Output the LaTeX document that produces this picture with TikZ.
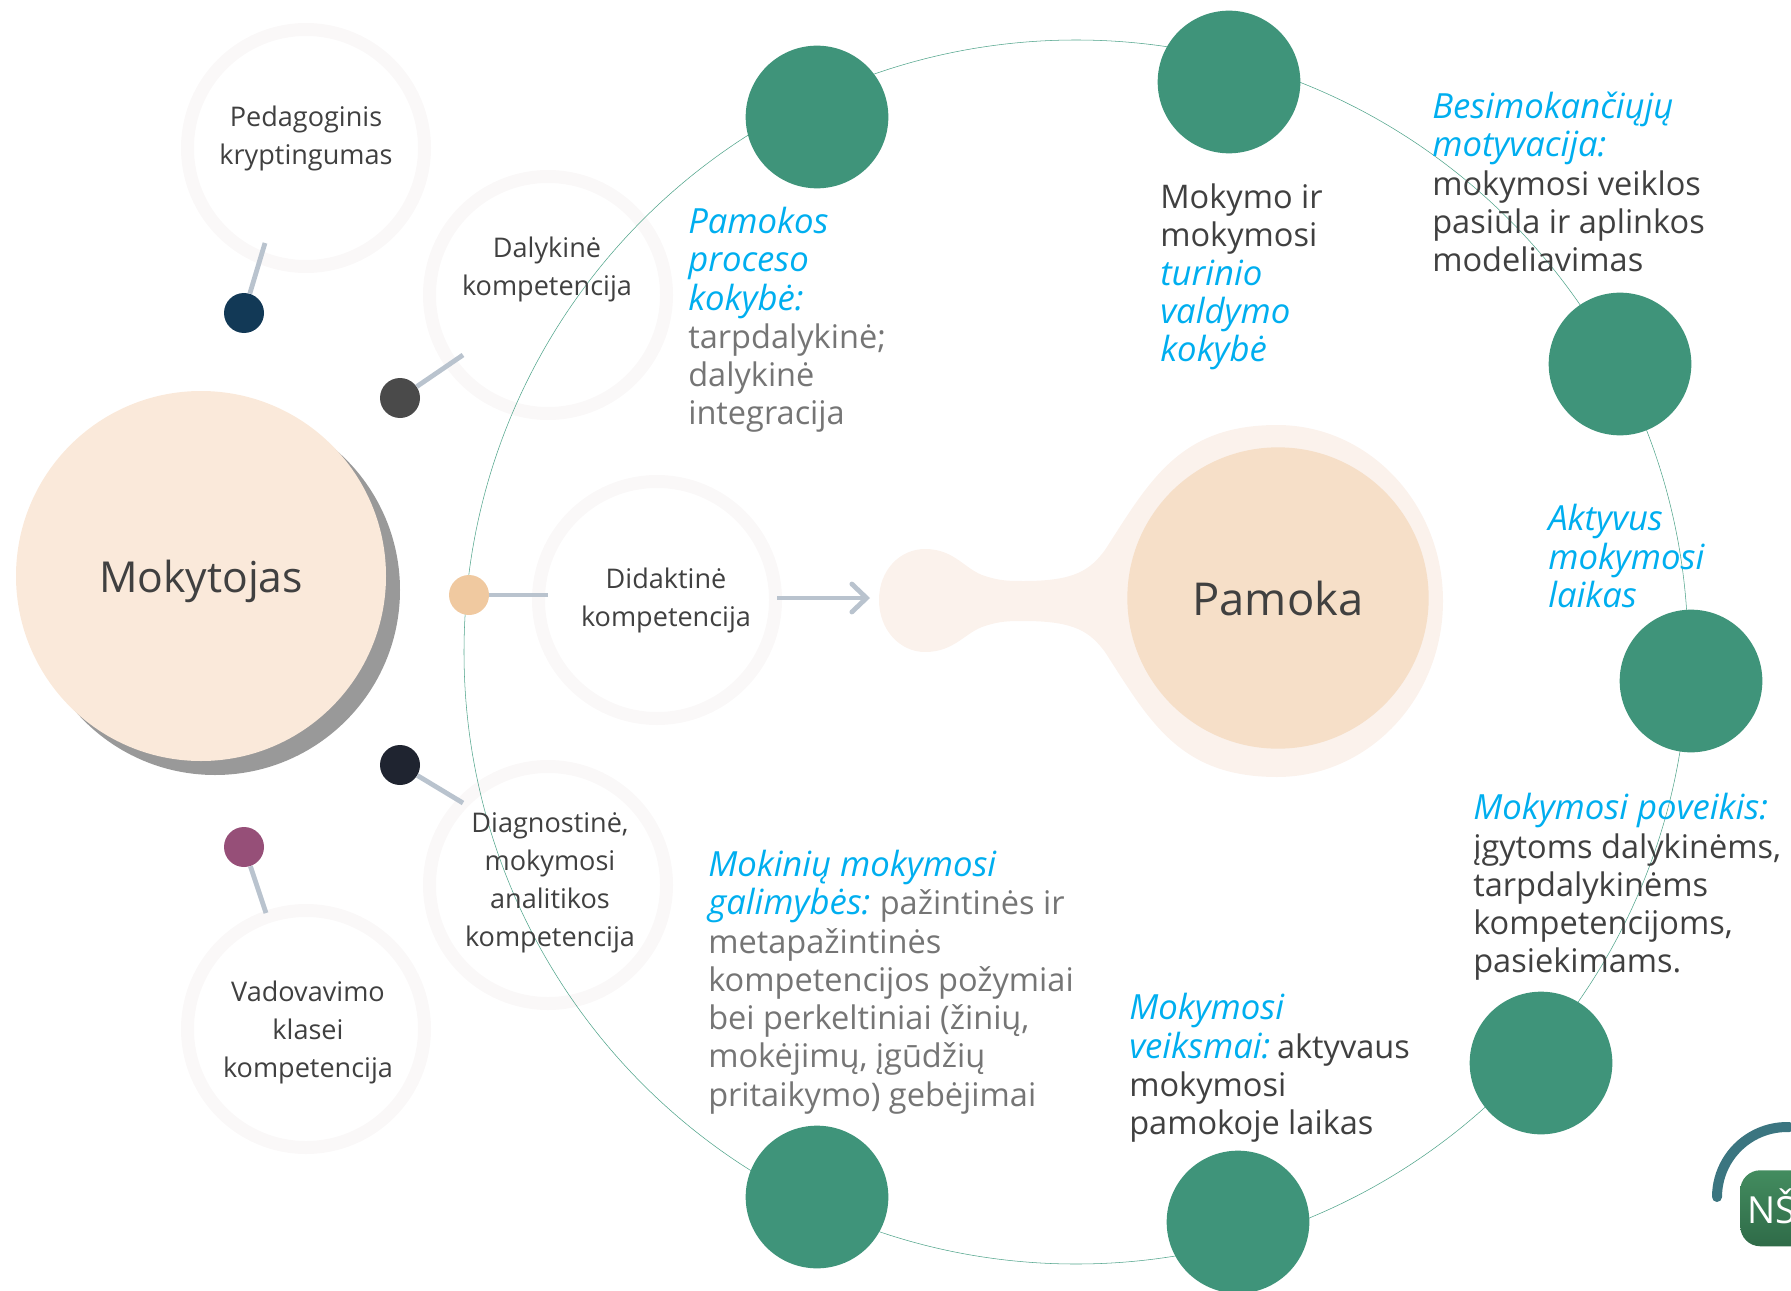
\documentclass[tikz,border=0pt]{standalone}
\usepackage{fontspec}
\setmainfont{Open Sans}
\usetikzlibrary{arrows.meta}
\definecolor{ringgrey}{HTML}{FAF8F8}
\definecolor{wirecol}{HTML}{B9C3CE}
\definecolor{loopcol}{HTML}{4FA38A}
\definecolor{stepgreen}{HTML}{3F947A}
\definecolor{notecyan}{HTML}{00AEEF}
\definecolor{notegrey}{HTML}{757575}
\definecolor{notedark}{HTML}{404040}
\definecolor{teachfill}{HTML}{FAE9DA}
\definecolor{lessonfill}{HTML}{F6DFC8}
\definecolor{blobfill}{HTML}{FBF2EC}
\newcommand{\hl}[1]{{\fontsize{26}{28.7}\selectfont\itshape\color{notecyan}#1}}
\begin{document}
\begin{tikzpicture}[x=.75pt,y=-.75pt]

\def\rsz{177.75pt}
\def\dsz{30pt}
\def\gsz{107pt}
\tikzstyle{ring} = [
	draw=ringgrey, circle, line width=9.75pt,
	minimum size=\rsz, inner sep=0pt ];
\tikzstyle{dot} = [circle, minimum size=\dsz, inner sep=0pt];
\tikzstyle{wire} = [draw=wirecol, line width=3.6pt];
\tikzstyle{stepdot} = [
	circle, fill=stepgreen, minimum size=\gsz, inner sep=0pt ];
\tikzstyle{label} = [
	align=center, text=notedark, inner sep=0pt,
	font=\fontsize{20.3}{28.5}\selectfont ];
\tikzstyle{note} = [
	align=left, anchor=west, inner sep=0pt, text=notedark,
	font=\fontsize{24.4}{28.7}\selectfont ];
\useasboundingbox (0,0) rectangle (1791,1291);

% outer circles
\node[ring] (r1) at (306,148) {};
\node[ring] (r2) at (548,295) {};
\node[ring] (r3) at (657,600) {};
\node[ring] (r4) at (548,885) {};
\node[ring] (r5) at (306,1029) {};

% the big loop
\node[circle, draw=loopcol, line width=.4pt, minimum size=918pt, inner sep=0pt] (loop) at (1076,652) {};

% teacher
\node[circle, fill=black!40, minimum size=277.5pt, inner sep=0pt] (teachshadow) at (215,590) {};
\node[circle, fill=teachfill, minimum size=277.5pt, inner sep=0pt] (teacher) at (201,576) {};
\node[inner sep=0pt, text=notedark, font=\fontsize{32}{36}\selectfont] (teachtxt) at (201,581) {Mokytojas};

% lesson
\fill[fill=blobfill] (879,600) .. controls (879,570) and (900,549) .. (925,549)
	.. controls (955,549) and (965,570) .. (985,576)
	.. controls (1000,581) and (1010,581) .. (1024,581)
	.. controls (1075,581) and (1090,570) .. (1105,550)
	.. controls (1150,480) and (1180,425) .. (1277,425)
	.. controls (1369,425) and (1443,504) .. (1443,601)
	.. controls (1443,698) and (1369,777) .. (1277,777)
	.. controls (1180,777) and (1150,722) .. (1105,652)
	.. controls (1090,632) and (1075,621) .. (1024,621)
	.. controls (1010,621) and (1000,621) .. (985,626)
	.. controls (965,632) and (955,652) .. (925,652)
	.. controls (900,652) and (879,630) .. (879,600) -- cycle;
\node[circle, fill=lessonfill, minimum size=226pt, inner sep=0pt, text=notedark,
	font=\fontsize{34}{42}\selectfont] (lesson) at (1278,598) {Pamoka};

% dots and their wires
\coordinate (w1) at (265,243);
\coordinate (w2) at (463,355);
\coordinate (w3) at (548,595);
\coordinate (w4) at (463,803);
\coordinate (w5) at (266,913);
\coordinate (w6) at (777,598);
\coordinate (w7) at (870,598);
\node[dot, fill={rgb,255:red,18;green,57;blue,86}] (d1) at (244,313) {};
\node[dot, fill={rgb,255:red,74;green,74;blue,74}] (d2) at (400,398) {};
\node[dot, fill={rgb,255:red,240;green,201;blue,160}] (d3) at (469,595) {};
\node[dot, fill={rgb,255:red,31;green,36;blue,48}] (d4) at (400,765) {};
\node[dot, fill={rgb,255:red,150;green,79;blue,120}] (d5) at (244,847) {};
\draw[wire] (d1) -- (w1);
\draw[wire] (d2) -- (w2);
\draw[wire] (d3) -- (w3);
\draw[wire] (d4) -- (w4);
\draw[wire] (d5) -- (w5);
\draw[wire, -{Straight Barb[length=11pt,width=21pt,line cap=round]}] (w6) -- (w7);

% texts in the circles
\node[label] (t1) at (306,138) {Pedagoginis\\kryptingumas};
\node[label] (t2) at (547,269) {Dalykinė\\kompetencija};
\node[label] (t3) at (666,600) {Didaktinė\\kompetencija};
\node[label] (t4) at (550,883) {Diagnostinė,\\mokymosi\\analitikos\\kompetencija};
\node[label] (t5) at (308,1032) {Vadovavimo\\klasei\\kompetencija};

% green steps
\node[stepdot] (s1) at (817,117) {};
\node[stepdot] (s2) at (1229,82) {};
\node[stepdot] (s3) at (1620,364) {};
\node[stepdot] (s4) at (1691,681) {};
\node[stepdot] (s5) at (1541,1063) {};
\node[stepdot] (s6) at (1238,1222) {};
\node[stepdot] (s7) at (817,1197) {};

% notes
\node[note] (n1) at (688,320) {\hl{Pamokos}\\\hl{proceso}\\\hl{kokybė:}\\\textcolor{notegrey}{tarpdalykinė;}\\\textcolor{notegrey}{dalykinė}\\\textcolor{notegrey}{integracija}};
\node[note] (n2) at (1160,277) {Mokymo ir\\mokymosi\\\hl{turinio}\\\hl{valdymo}\\\hl{kokybė}};
\node[note] (n3) at (1432,182) {\hl{Besimokančiųjų}\\\hl{motyvacija:}\\mokymosi veiklos\\pasiūla ir aplinkos\\modeliavimas};
\node[note] (n4) at (1548,556) {\hl{Aktyvus}\\\hl{mokymosi}\\\hl{laikas}};
\node[note] (n5) at (1473,887) {\hl{Mokymosi poveikis:}\\įgytoms dalykinėms,\\tarpdalykinėms\\kompetencijoms,\\pasiekimams.};
\node[note] (n6) at (1129,1068) {\hl{Mokymosi}\\\hl{veiksmai:}\kern-3.5pt{} aktyvaus\\mokymosi\\pamokoje laikas};
\node[note, text=notegrey] (n7) at (708,982) {\hl{Mokinių mokymosi}\\\hl{galimybės:}\kern-1.5pt{} pažintinės ir\\metapažintinės\\kompetencijos požymiai\\bei perkeltiniai (žinių,\\mokėjimų, įgūdžių\\pritaikymo) gebėjimai};

% logo
\draw[draw={rgb,255:red,59;green,117;blue,128}, line width=7.5pt, line cap=round] (1717,1197) arc (180:272:70);
\node[rounded corners=15pt, minimum width=105pt, minimum height=57pt, inner sep=0pt, anchor=north west,
	top color={rgb,255:red,67;green,140;blue,95}, bottom color={rgb,255:red,47;green,107;blue,72}] (logo) at (1740,1170) {};
\node[anchor=base west, inner sep=0pt, text=white, font=\fontsize{28}{28}\selectfont] (logotxt) at (1747,1223) {NŠ};

\end{tikzpicture}
\end{document}
